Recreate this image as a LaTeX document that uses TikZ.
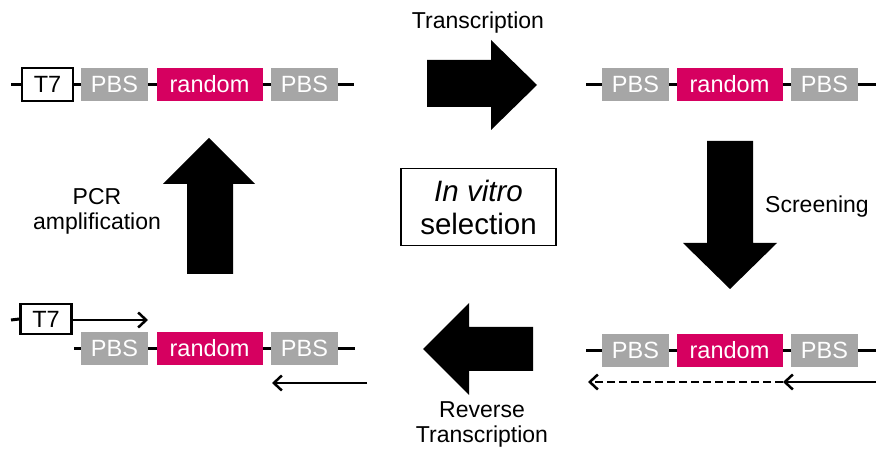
\documentclass[tikz,border=0pt]{standalone}
\usepackage{fontspec}
\setmainfont{Liberation Sans}
\usetikzlibrary{arrows.meta}
\definecolor{pbsgray}{RGB}{166,166,166}
\definecolor{randmag}{RGB}{214,0,96}
\begin{document}
\begin{tikzpicture}[x=1pt,y=-1pt,
  seg/.style={inner sep=0pt, minimum height=33pt, font=\fontsize{23.5}{27}\selectfont, text=white},
  pbs/.style={seg, fill=pbsgray, minimum width=67pt},
  rnd/.style={seg, fill=randmag, minimum width=106pt},
  t7box/.style={inner sep=0pt, draw=black, line width=2.5pt, fill=white, minimum width=51pt, font=\fontsize{23.5}{27}\selectfont},
  dna/.style={line width=3pt},
  thinarrow/.style={line width=2.5pt, -{Straight Barb[length=8pt,width=15pt]}},
  bigarrow/.style={fill=black},
  lab/.style={font=\fontsize{23}{25}\selectfont, align=center}]
\useasboundingbox (0,0) rectangle (876,454);

% ---- top-left template
\coordinate (tlA) at (11,84.5);
\coordinate (tlB) at (354,84.5);
\draw[dna] (tlA) -- (tlB);
\node[t7box, minimum height=33pt] (tlT7) at (47.5,84.5) {T7};
\node[pbs] (tlP1) at (114.5,84.5) {PBS};
\node[rnd] (tlR) at (209.5,84.5) {random};
\node[pbs] (tlP2) at (304.5,84.5) {PBS};

% ---- top-right RNA
\coordinate (trA) at (586,84.5);
\coordinate (trB) at (876,84.5);
\draw[dna] (trA) -- (trB);
\node[pbs] (trP1) at (635.5,84.5) {PBS};
\node[rnd] (trR) at (729.5,84.5) {random};
\node[pbs] (trP2) at (824.5,84.5) {PBS};

% ---- bottom-right
\coordinate (brA) at (586,350.5);
\coordinate (brB) at (876,350.5);
\draw[dna] (brA) -- (brB);
\node[pbs] (brP1) at (635.5,350.5) {PBS};
\node[rnd] (brR) at (729.5,350.5) {random};
\node[pbs] (brP2) at (824.5,350.5) {PBS};
\coordinate (brS) at (876,382);
\coordinate (brM) at (783,382);
\coordinate (brE) at (588,382);
\draw[thinarrow] (brS) -- (brM);
\draw[thinarrow, dash pattern=on 8pt off 4pt] (brM) -- (brE);

% ---- bottom-left
\coordinate (blA) at (74,349);
\coordinate (blB) at (355,349);
\draw[dna] (blA) -- (blB);
\node[pbs] (blP1) at (114.5,348.5) {PBS};
\node[rnd] (blR) at (209.5,348.5) {random};
\node[pbs] (blP2) at (304.5,348.5) {PBS};
\coordinate (blT0) at (11,320);
\node[t7box, minimum height=30pt] (blT7) at (46,319) {T7};
\draw[dna] (blT0) -- (blT7.west);
\coordinate (blF) at (148,320);
\draw[thinarrow] (blT7.east |- blF) -- (blF);
\coordinate (blRs) at (367,383);
\coordinate (blRe) at (272,383);
\draw[thinarrow] (blRs) -- (blRe);

% ---- big arrows
\fill[bigarrow] (427,60) -- (491,60) -- (491,40) -- (537,85) -- (491,130) -- (491,107) -- (427,107) -- cycle;
\fill[bigarrow] (707,141) -- (753,141) -- (753,243) -- (777,243) -- (730,289) -- (683,243) -- (707,243) -- cycle;
\fill[bigarrow] (533,327) -- (469,327) -- (469,303) -- (423,349) -- (469,395) -- (469,371) -- (533,371) -- cycle;
\fill[bigarrow] (187,274) -- (187,184) -- (163,184) -- (209,138) -- (255,184) -- (233,184) -- (233,274) -- cycle;

% ---- labels
\node[lab] (lTrans) at (478,23) {Transcription};
\node[lab] (lScreen) at (817,207) {Screening};
\node[lab] (lRev) at (482,424) {Reverse\\Transcription};
\node[lab] (lPCR) at (97,211) {PCR\\amplification};
\node[draw=black, line width=1.5pt, minimum width=155pt, minimum height=77pt, inner sep=0pt,
      font=\fontsize{29.5}{33}\selectfont, align=center] (center) at (478.5,207) {\textit{In vitro}\\selection};
\end{tikzpicture}
\end{document}
